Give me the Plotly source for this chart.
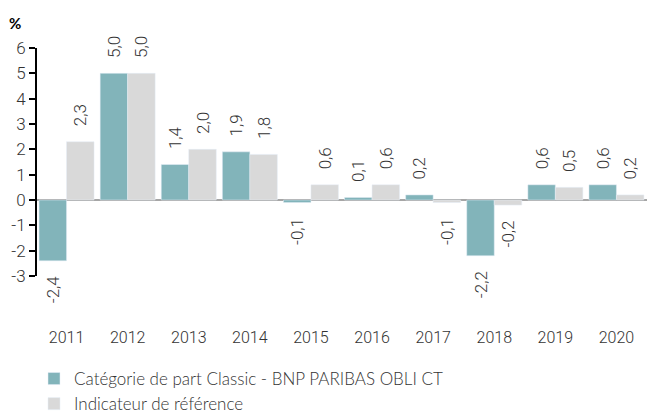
import plotly.graph_objects as go

years = ["2011", "2012", "2013", "2014", "2015", "2016", "2017", "2018", "2019", "2020"]
fund = [-2.4, 5.0, 1.4, 1.9, -0.1, 0.1, 0.2, -2.2, 0.6, 0.6]
bench = [2.3, 5.0, 2.0, 1.8, 0.6, 0.6, -0.1, -0.2, 0.5, 0.2]
fund_name = "Catégorie de part Classic - BNP PARIBAS OBLI CT"
bench_name = "Indicateur de référence"
yticks = [-3, -2, -1, 0, 1, 2, 3, 4, 5, 6]

PAD = "\u00a0\u00a0\u00a0"

def fmt(v):
    s = f"{v:.1f}".replace(".", ",")
    return PAD + s if v >= 0 else s + PAD

lab_font = dict(family="Roboto", size=17, color="#333333", weight=300)

fig = go.Figure()
fig.add_trace(go.Bar(x=years, y=fund, name=fund_name, marker_color="#82B4BA",
                     text=[fmt(v) for v in fund], textposition="outside", textangle=-90,
                     textfont=lab_font, cliponaxis=False, constraintext="none"))
fig.add_trace(go.Bar(x=years, y=bench, name=bench_name, marker_color="#D9D9D9",
                     text=[fmt(v) for v in bench], textposition="outside", textangle=-90,
                     textfont=lab_font, cliponaxis=False, constraintext="none"))

fig.update_layout(
    width=654, height=412,
    margin=dict(l=36, r=7, t=48, b=88, autoexpand=False),
    plot_bgcolor="white", paper_bgcolor="white",
    barmode="group", bargap=0.1, bargroupgap=0,
    font=dict(family="Roboto", size=16, color="#333333", weight=300),
    showlegend=True,
    legend=dict(orientation="v", x=34 / 654, y=1 - 361 / 412, xref="container", yref="container",
                xanchor="left", yanchor="top",
                font=dict(family="Lato", size=17, color="#333333"),
                itemwidth=30, tracegroupgap=0, bgcolor="rgba(0,0,0,0)"),
    xaxis=dict(showgrid=False, showline=False, ticks="", ticklabelstandoff=2,
               tickfont=dict(family="Roboto", size=16, color="#333333", weight=300)),
    yaxis=dict(range=[-4.895, 6], showgrid=False, showline=False,
               zeroline=True, zerolinecolor="#A6A6A6", zerolinewidth=2,
               tickvals=yticks, ticktext=[str(v) for v in yticks],
               ticks="outside", ticklen=6, tickcolor="black", tickwidth=1.5,
               tickfont=dict(family="Roboto", size=17, color="#333333", weight=300)),
    shapes=[dict(type="line", xref="paper", yref="y", x0=0, x1=0, y0=-3, y1=6,
                 line=dict(color="black", width=2))],
    annotations=[dict(text="<b>%</b>", xref="paper", yref="paper", x=-0.035, y=1.09,
                      xanchor="center", yanchor="middle", showarrow=False,
                      font=dict(family="Lato", size=15, color="black"))],
)

fig.write_html("out.html")
